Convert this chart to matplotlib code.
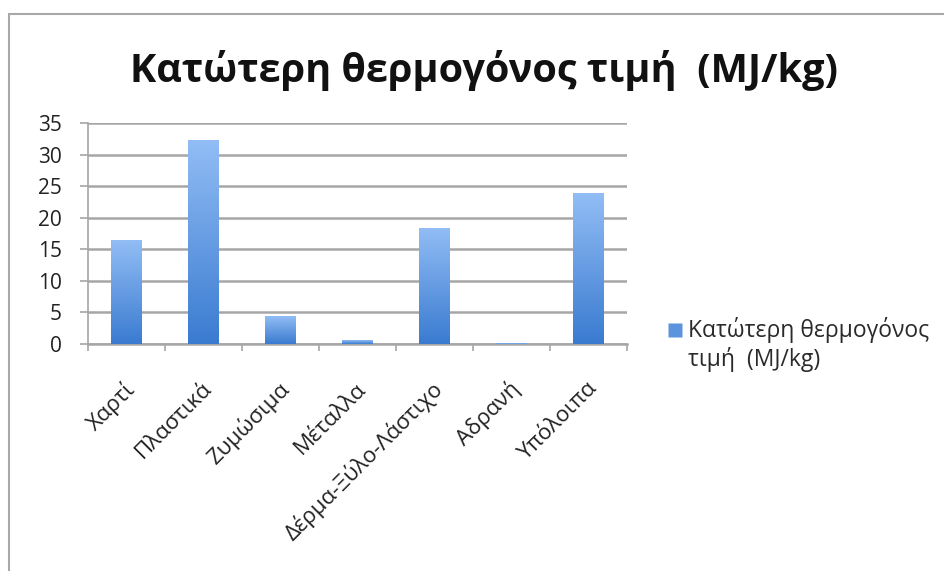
import numpy as np
import matplotlib
matplotlib.use("Agg")
from matplotlib import pyplot as plt
from matplotlib.patches import Rectangle
from matplotlib.lines import Line2D
from matplotlib.transforms import ScaledTranslation
from matplotlib.legend_handler import HandlerLine2D

plt.rcParams['font.family'] = ['Open Sans', 'DejaVu Sans']

# data
categories = ["Χαρτί", "Πλαστικά", "Ζυμώσιμα", "Μέταλλα",
              "Δέρμα-Ξύλο-Λάστιχο", "Αδρανή", "Υπόλοιπα"]
values = [16.4, 32.3, 4.4, 0.6, 18.4, 0.1, 23.9]
yticks = [0, 5, 10, 15, 20, 25, 30, 35]
title = "Κατώτερη θερμογόνος τιμή  (MJ/kg)"
series_name = "Κατώτερη θερμογόνος\nτιμή  (MJ/kg)"


class RaisedHandler(HandlerLine2D):
    # put the legend square next to the first line of a 2-line label
    def create_artists(self, legend, orig_handle, xdescent, ydescent,
                       width, height, fontsize, trans):
        return super().create_artists(legend, orig_handle, xdescent,
                                      ydescent - 22, width, height,
                                      fontsize, trans)


fig = plt.figure(figsize=(9.45, 5.71), dpi=100)
# outer chart frame
fig.patches.append(Rectangle((9/945, -0.05), 1.0, 1 - 14/571 + 0.05,
                             transform=fig.transFigure, fill=False,
                             edgecolor="#a8a8a8", linewidth=1.5))

ax = fig.add_axes([88/945, 1 - 344/571, (627-88)/945, (344-123)/571])
x = np.arange(len(categories))
bars = ax.bar(x, values, width=0.39, color="none", zorder=3)

# vertical gradient inside each bar
grad = np.linspace(0, 1, 256).reshape(-1, 1)
cmap = matplotlib.colors.LinearSegmentedColormap.from_list("b", ["#3a7bd0", "#92bdf5"])
for b in bars:
    bx, by = b.get_x(), b.get_y()
    w, h = b.get_width(), b.get_height()
    if h <= 0:
        continue
    im = ax.imshow(grad, extent=[bx, bx + w, by, by + h], origin="lower",
                   cmap=cmap, aspect="auto", zorder=3)
    im.set_clip_path(b)

ax.set_xlim(-0.5, len(categories) - 0.5)
ax.set_ylim(0, 35)
ax.set_yticks(yticks)
ax.yaxis.grid(True, color="#a6a6a6", linewidth=1.8, zorder=0)
ax.set_axisbelow(True)
for s in ["top", "right"]:
    ax.spines[s].set_visible(False)
ax.spines["left"].set_color("#a6a6a6")
ax.spines["bottom"].set_color("#a6a6a6")
ax.spines["left"].set_linewidth(1.2)
ax.spines["bottom"].set_linewidth(1.8)
ax.tick_params(axis="y", colors="#a6a6a6", labelcolor="#222222", labelsize=15,
               length=6, width=1.2, pad=13)
ax.set_xticks(x)
ax.set_xticklabels(categories, rotation=45, ha="right", va="center",
                   rotation_mode="anchor", fontsize=16, color="#222222")
ax.tick_params(axis="x", length=0, pad=30)
shift = ScaledTranslation(5/100, 0, fig.dpi_scale_trans)
for lab in ax.get_xticklabels():
    lab.set_transform(lab.get_transform() + shift)
ax.set_xticks(np.arange(-0.5, len(categories)), minor=True)
ax.tick_params(axis="x", which="minor", length=5, width=1.2, colors="#a6a6a6")

fig.text(484/945, 1 - 82/571, title, ha="center", va="baseline",
         fontsize=28.5, fontweight="bold", color="#111111")

handle = Line2D([], [], marker="s", linestyle="none", markersize=9.5,
                markerfacecolor="#5b93dc", markeredgecolor="none")
fig.legend([handle], [series_name], loc="upper left",
           bbox_to_anchor=(667/945, 1 - 317/571), frameon=False,
           fontsize=16.5, handlelength=0.7, handletextpad=0.2,
           borderpad=0, borderaxespad=0,
           labelcolor="#2a2a2a", labelspacing=0.2,
           handler_map={Line2D: RaisedHandler()})

fig.savefig("out.png", dpi=100)
